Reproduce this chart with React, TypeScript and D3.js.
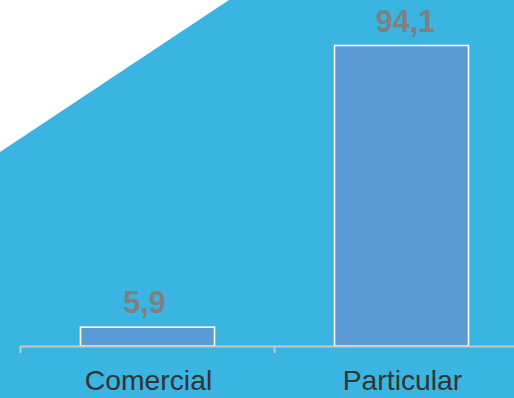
import React from "react";
import * as d3 from "d3";

const categories: string[] = ["Comercial", "Particular"];
const values: number[] = [5.9, 94.1];
const valueLabels: string[] = ["5,9", "94,1"];

const W = 514;
const H = 398;

export default function App() {
  const x = d3
    .scaleBand<string>()
    .domain(categories)
    .range([20.5, 528.5])
    .paddingInner(0.4724)
    .paddingOuter(0.2362);
  const y = d3.scaleLinear().domain([0, 94.1]).range([346, 45.5]);
  const step = x.step();
  const bandStarts = categories.map((c) => (x(c) as number) - step * 0.2362);
  const tickXs = [...bandStarts, bandStarts[bandStarts.length - 1] + step];
  const font = "'Liberation Sans', Arial, Helvetica, sans-serif";
  const labelDx = [-3, 4];

  return (
    <svg
      width={W}
      height={H}
      style={{ position: "absolute", left: 0, top: 0, display: "block" }}
    >
      <rect x={0} y={0} width={W} height={H} fill="#3AB4E1" />
      <polygon points="0,0 229,0 0,152" fill="#FFFFFF" />
      {categories.map((c, i) => (
        <rect
          key={c}
          x={x(c)}
          y={y(values[i])}
          width={x.bandwidth()}
          height={y(0) - y(values[i])}
          fill="#5B9BD5"
          stroke="#FFFFFF"
          strokeWidth={1.6}
        />
      ))}
      <line x1={20.5} x2={W} y1={346.5} y2={346.5} stroke="#C8C8C8" strokeWidth={2} />
      {tickXs.map((tx, i) => (
        <line key={i} x1={tx} x2={tx} y1={346} y2={353} stroke="#C8C8C8" strokeWidth={2} />
      ))}
      {categories.map((c, i) => (
        <text
          key={"v" + c}
          x={(x(c) as number) + x.bandwidth() / 2 + labelDx[i]}
          y={y(values[i]) - 14}
          textAnchor="middle"
          fontFamily={font}
          fontWeight="bold"
          fontSize={30.5}
          fill="#808080"
        >
          {valueLabels[i]}
        </text>
      ))}
      {categories.map((c) => (
        <text
          key={"c" + c}
          x={(x(c) as number) + x.bandwidth() / 2 + 1}
          y={390}
          textAnchor="middle"
          fontFamily={font}
          fontSize={28.3}
          fill="#333333"
        >
          {c}
        </text>
      ))}
    </svg>
  );
}
